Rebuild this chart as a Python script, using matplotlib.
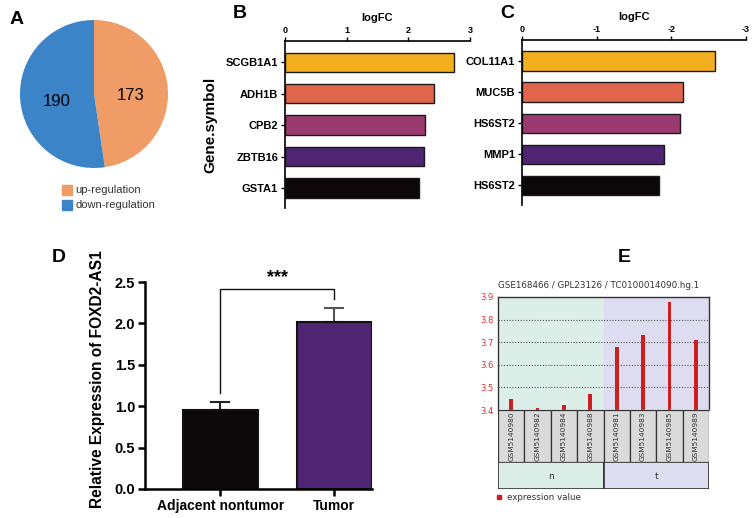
import numpy as np
import matplotlib
matplotlib.use("Agg")
import matplotlib.pyplot as plt
from matplotlib.patches import Rectangle

plt.rcParams['font.family'] = ['Liberation Sans', 'DejaVu Sans']

# data -----------------------------------------------------------------------
pie_labels = ['up-regulation', 'down-regulation']
pie_counts = [173, 190]
pie_colors = ['#F09C66', '#3C84C8']

up_genes = ['SCGB1A1', 'ADH1B', 'CPB2', 'ZBTB16', 'GSTA1']
up_logfc = [2.74, 2.41, 2.27, 2.26, 2.18]
down_genes = ['COL11A1', 'MUC5B', 'HS6ST2', 'MMP1', 'HS6ST2']
down_logfc = [-2.59, -2.15, -2.12, -1.90, -1.84]
bar_colors = ['#F4AF1F', '#E0654B', '#9B3A6E', '#4F2472', '#0C0709']

groups = ['Adjacent nontumor', 'Tumor']
expr_mean = [0.95, 2.02]
expr_sd = [0.10, 0.16]

geo_samples = ['GSM5140980', 'GSM5140982', 'GSM5140984', 'GSM5140988',
               'GSM5140981', 'GSM5140983', 'GSM5140985', 'GSM5140989']
geo_values = [3.45, 3.41, 3.42, 3.47, 3.68, 3.73, 3.88, 3.71]
geo_groups = ['n', 't']

W, H = 753, 518
fig = plt.figure(figsize=(W / 100, H / 100), dpi=100)


def px(l, t, r, b):
    return [l / W, 1 - b / H, (r - l) / W, (b - t) / H]


def letter(x, y, s):
    fig.text(x / W, 1 - y / H, s, fontsize=14, fontweight='bold',
             ha='left', va='center')


# A: pie ---------------------------------------------------------------------
axA = fig.add_axes(px(20, 20, 168, 168))
wedges, texts = axA.pie(pie_counts, colors=pie_colors, startangle=90,
                        counterclock=False,
                        labels=[str(c) for c in pie_counts], labeldistance=0.5,
                        textprops=dict(fontsize=12, va='center', ha='center'))
for t in texts:
    x, y = t.get_position()
    t.set_position((x, y - 0.06))
axA.set_xlim(-1, 1)
axA.set_ylim(-1, 1)
axA.set_aspect('equal')
for i, (lab, col) in enumerate(zip(pie_labels, pie_colors)):
    yy = 190 + i * 15
    fig.patches.append(Rectangle((62 / W, 1 - (yy + 5) / H), 10 / W, 10 / H,
                                 transform=fig.transFigure, color=col))
    fig.text(75 / W, 1 - yy / H, lab, fontsize=8, va='center', color='#333333')
letter(10, 20, 'A')


# B / C: horizontal bars -------------------------------------------------------
def hbar(rect, genes, vals, xlim, ticks, ticklabels, ylabel=None):
    ax = fig.add_axes(rect)
    pos = np.arange(len(genes))
    ax.barh(pos, vals, height=0.62, color=bar_colors, edgecolor='#1a1a1a',
            linewidth=1.0)
    ax.set_ylim(4.64, -0.68)
    ax.set_xlim(*xlim)
    ax.set_yticks(pos)
    ax.set_yticklabels(genes, fontsize=8, fontweight='bold')
    ax.xaxis.tick_top()
    ax.xaxis.set_label_position('top')
    ax.set_xticks(ticks)
    ax.set_xticklabels(ticklabels, fontsize=6.5, fontweight='bold')
    ax.set_xlabel('logFC', fontsize=8, fontweight='bold', labelpad=4)
    ax.tick_params(axis='x', length=3, width=1, pad=1)
    ax.tick_params(axis='y', length=3, width=1, pad=2)
    for s in ['bottom', 'right']:
        ax.spines[s].set_visible(False)
    for s in ['top', 'left']:
        ax.spines[s].set_linewidth(1.2)
    if ylabel:
        ax.set_ylabel(ylabel, fontsize=11, fontweight='bold', labelpad=6)
    return ax


hbar(px(285, 41, 470, 208), up_genes, up_logfc, (0, 3), [0, 1, 2, 3],
     ['0', '1', '2', '3'], ylabel='Gene.symbol')
hbar(px(522, 40, 746, 205), down_genes, down_logfc, (0, -3), [0, -1, -2, -3],
     ['0', '-1', '-2', '-3'])
letter(233, 13, 'B')
letter(500, 13, 'C')

# D: bar chart with error bars ------------------------------------------------
axD = fig.add_axes(px(145, 282, 372, 489))
xpos = np.arange(len(groups))
axD.bar(xpos, expr_mean, width=0.66, color=['#0C0709', '#4F2472'],
        edgecolor='#111111', linewidth=1.5, zorder=2)
for x, m, s, c in zip(xpos, expr_mean, expr_sd, ['#222222', '#555555']):
    axD.errorbar(x, m, yerr=[[0], [s]], fmt='none', ecolor=c, elinewidth=1.5,
                 capsize=7, capthick=1.5, zorder=1)
axD.set_xlim(-0.66, 1.33)
axD.set_ylim(0, 2.5)
axD.set_yticks([0, 0.5, 1.0, 1.5, 2.0, 2.5])
axD.set_yticklabels(['0.0', '0.5', '1.0', '1.5', '2.0', '2.5'],
                    fontsize=10.5, fontweight='bold')
axD.set_xticks(xpos)
axD.set_xticklabels(groups, fontsize=10, fontweight='bold')
axD.tick_params(width=1.8, length=5, pad=2)
for s in ['top', 'right']:
    axD.spines[s].set_visible(False)
for s in ['left', 'bottom']:
    axD.spines[s].set_linewidth(1.8)
axD.set_ylabel('Relative Expression of FOXD2-AS1', fontsize=11.2,
               fontweight='bold')
axD.yaxis.set_label_coords(-0.175, 0.53)
by = 2.42
axD.plot([0, 0, 1, 1], [1.16, by, by, 2.29], color='#111111', lw=1.0,
         clip_on=False)
axD.text(0.5, by + 0.03, '***', ha='center', va='bottom', fontsize=13,
         fontweight='bold')
letter(52, 258, 'D')

# E: GEO profile ---------------------------------------------------------------
fig.text(498 / W, 1 - 286 / H, 'GSE168466 / GPL23126 / TC0100014090.hg.1',
         fontsize=6.3, va='center', color='#333333', family='DejaVu Sans')
axE = fig.add_axes(px(498, 297, 709, 410))
n = len(geo_values)
xs = np.arange(n) + 0.5
axE.axvspan(0, n / 2, color='#DCEEE8', zorder=0)
axE.axvspan(n / 2, n, color='#DEDCF0', zorder=0)
for g in [3.5, 3.6, 3.7, 3.8]:
    axE.axhline(g, color='#555555', lw=0.8, ls=(0, (1, 1.5)), zorder=1)
axE.bar(xs, np.array(geo_values) - 3.4, bottom=3.4, width=0.14,
        color='#CC2020', zorder=2)
axE.set_xlim(0, n)
axE.set_ylim(3.4, 3.9)
axE.set_xticks([])
axE.set_yticks([3.4, 3.5, 3.6, 3.7, 3.8, 3.9])
axE.set_yticklabels(['3.4', '3.5', '3.6', '3.7', '3.8', '3.9'], fontsize=6,
                    color='#E03030', family='DejaVu Sans')
axE.tick_params(axis='y', length=0, pad=3)
for s in axE.spines.values():
    s.set_color('#333333')
    s.set_linewidth(1.0)
axE.spines['bottom'].set_color('#999999')

axS = fig.add_axes(px(498, 410, 709, 462))
axS.set_xlim(0, n)
axS.set_ylim(0, 1)
axS.axis('off')
for i, s in enumerate(geo_samples):
    axS.add_patch(Rectangle((i, 0), 1, 1, facecolor='#DADADA',
                            edgecolor='#333333', lw=0.9))
    axS.text(i + 0.5, 0.5, s, rotation=90, ha='center', va='center',
             fontsize=5.3, color='#333333', family='DejaVu Sans')

axG = fig.add_axes(px(498, 462, 709, 489))
axG.set_xlim(0, n)
axG.set_ylim(0, 1)
axG.axis('off')
for j, (g, c) in enumerate(zip(geo_groups, ['#DCEEE8', '#DEDCF0'])):
    axG.add_patch(Rectangle((j * n / 2, 0), n / 2, 1, facecolor=c,
                            edgecolor='#333333', lw=1.2))
    axG.text(j * n / 2 + n / 4, 0.45, g, ha='center', va='center',
             fontsize=6.5, color='#333333', family='DejaVu Sans')

fig.patches.append(Rectangle((497 / W, 1 - 499 / H), 4 / W, 4 / H,
                             transform=fig.transFigure, color='#CC2020'))
fig.text(507 / W, 1 - 497 / H, 'expression value', fontsize=6.3,
         va='center', color='#333333', family='DejaVu Sans')
letter(618, 258, 'E')

fig.savefig('out.png', dpi=100)
